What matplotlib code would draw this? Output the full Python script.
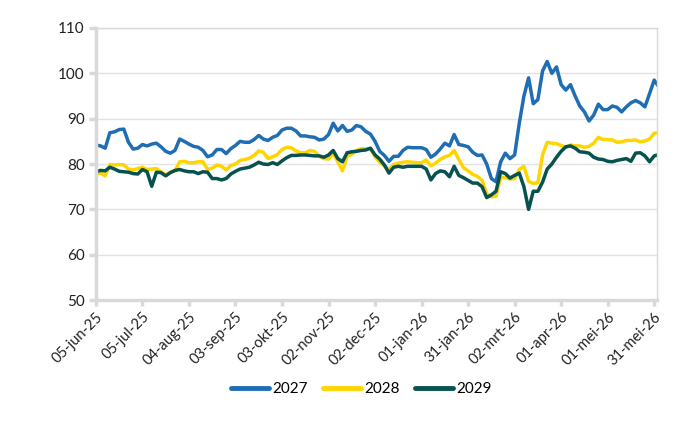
import matplotlib
matplotlib.use("Agg")
import matplotlib.pyplot as plt
import pandas as pd

plt.rcParams['font.family'] = ['Lato', 'DejaVu Sans']

# Data sampled every 3 days from 05-jun-25
start_date = "2025-06-05"
step_days = 3

s2027 = [84.2, 84.0, 83.5, 86.9, 87.1, 87.6, 87.7, 84.8, 83.3, 83.5,
         84.3, 84.0, 84.4, 84.6, 83.8, 82.8, 82.4, 83.0, 85.5, 85.0,
         84.4, 83.9, 83.7, 83.0, 81.6, 82.0, 83.2, 83.2, 82.3, 83.4,
         84.1, 85.0, 84.8, 84.8, 85.4, 86.3, 85.5, 85.2, 85.9, 86.3,
         87.5, 87.9, 87.9, 87.3, 86.2, 86.2, 86.0, 85.9, 85.3, 85.5,
         86.5, 89.0, 87.3, 88.5, 87.2, 87.5, 88.5, 88.2, 87.2, 86.6,
         85.0, 82.8, 81.9, 80.6, 81.7, 81.7, 83.0, 83.7, 83.6, 83.6,
         83.6, 83.2, 81.5, 82.2, 83.3, 84.6, 84.0, 86.5, 84.3, 84.1,
         83.8, 82.6, 81.9, 82.0, 80.0, 76.8, 76.1, 80.5, 82.4, 81.2,
         82.0, 89.0, 95.0, 99.0, 93.3, 94.2, 100.5, 102.6, 100.0, 101.4,
         97.5, 96.3, 97.5, 95.0, 92.8, 91.5, 89.5, 90.8, 93.2, 92.0,
         92.0, 92.8, 92.5, 91.5, 92.6, 93.5, 94.0, 93.5, 92.6, 95.5,
         98.5, 97.0]

s2028 = [77.9, 78.0, 77.4, 79.9, 79.8, 79.9, 79.8, 78.9, 78.7, 79.0,
         79.3, 78.8, 78.9, 79.0, 78.3, 77.6, 78.2, 78.5, 80.5, 80.6,
         80.3, 80.3, 80.5, 80.5, 78.8, 79.1, 79.8, 79.5, 78.7, 79.7,
         80.0, 80.8, 81.0, 81.3, 81.9, 82.9, 82.6, 81.2, 81.6, 82.1,
         83.2, 83.7, 83.6, 82.9, 82.5, 82.5, 83.0, 82.8, 81.7, 81.2,
         81.1, 82.4, 80.5, 78.5, 81.7, 82.2, 83.0, 83.4, 83.3, 83.4,
         81.6, 80.4, 79.6, 78.8, 79.9, 80.2, 80.4, 80.5, 80.4, 80.3,
         80.3, 80.9, 79.6, 80.2, 81.0, 81.6, 81.9, 83.0, 81.0, 79.2,
         78.5, 77.7, 77.3, 76.4, 73.5, 72.8, 72.9, 77.0, 77.0, 76.7,
         76.8, 78.8, 79.5, 76.2, 75.7, 75.9, 82.0, 84.8, 84.6, 84.5,
         84.1, 83.7, 84.2, 84.0, 84.0, 83.7, 83.9, 84.6, 85.9, 85.4,
         85.4, 85.3, 84.8, 84.9, 85.2, 85.2, 85.3, 84.9, 85.1, 85.5,
         86.8, 86.9]

s2029 = [78.3, 78.6, 78.5, 79.3, 78.9, 78.4, 78.3, 78.2, 77.9, 77.8,
         78.8, 78.3, 75.1, 78.2, 78.1, 77.4, 78.1, 78.6, 78.8, 78.5,
         78.3, 78.3, 77.9, 78.3, 78.2, 76.8, 76.8, 76.5, 76.8, 77.8,
         78.4, 78.9, 79.1, 79.3, 79.8, 80.4, 80.0, 79.9, 80.3, 79.9,
         80.7, 81.4, 81.9, 81.9, 82.0, 82.0, 81.9, 81.8, 81.8, 81.5,
         82.0, 83.0, 81.2, 80.5, 82.5, 82.7, 82.8, 83.0, 83.1, 83.5,
         82.0, 81.1, 79.8, 78.0, 79.3, 79.5, 79.3, 79.5, 79.5, 79.5,
         79.5, 78.9, 76.5, 77.9, 78.5, 78.3, 77.2, 79.5, 77.5, 77.0,
         76.4, 75.8, 75.8, 75.0, 72.6, 73.2, 74.0, 78.3, 77.9, 76.9,
         77.5, 78.0, 75.0, 70.0, 74.0, 74.0, 76.0, 78.9, 80.0, 81.5,
         82.8, 83.8, 84.0, 83.5, 82.7, 82.6, 82.4, 81.5, 81.1, 81.0,
         80.6, 80.5, 80.8, 81.0, 81.2, 80.6, 82.4, 82.5, 81.8, 80.5,
         81.8, 82.1]

series_names = ["2027", "2028", "2029"]
colors = ["#1f6db3", "#ffd500", "#07524f"]

tick_dates = ["2025-06-05", "2025-07-05", "2025-08-04", "2025-09-03", "2025-10-03",
              "2025-11-02", "2025-12-02", "2026-01-01", "2026-01-31", "2026-03-02",
              "2026-04-01", "2026-05-01", "2026-05-31"]
tick_labels = ["05-jun-25", "05-jul-25", "04-aug-25", "03-sep-25", "03-okt-25",
               "02-nov-25", "02-dec-25", "01-jan-26", "31-jan-26", "02-mrt-26",
               "01-apr-26", "01-mei-26", "31-mei-26"]
y_ticks = [50, 60, 70, 80, 90, 100, 110]

dates = pd.date_range(start_date, periods=len(s2027), freq=f"{step_days}D")

fig = plt.figure(figsize=(7, 4.3), dpi=100)
ax = fig.add_axes([0.137, 0.302, 0.802, 0.633])

for vals, name, c in zip([s2027, s2028, s2029], series_names, colors):
    ax.plot(dates, vals, color=c, lw=2.5, label=name, solid_joinstyle='round')

ax.set_ylim(50, 110)
ax.set_yticks(y_ticks)
ax.set_xlim(pd.Timestamp(start_date), pd.Timestamp("2026-06-02"))
ax.set_xticks(pd.to_datetime(tick_dates))
ax.set_xticklabels(tick_labels, rotation=45, ha='right', rotation_mode='anchor')

ax.grid(axis='y', color='#e3e3e3', lw=1)
ax.set_axisbelow(True)
for side in ['top', 'right']:
    ax.spines[side].set_color('#d9d9d9')
    ax.spines[side].set_linewidth(1)
for side in ['left', 'bottom']:
    ax.spines[side].set_color('#d9d9d9')
    ax.spines[side].set_linewidth(2.5)

ax.tick_params(axis='y', length=5, width=2.5, color='#d9d9d9', labelsize=11,
               labelcolor='#222222', pad=3)
ax.tick_params(axis='x', length=4, width=2.5, color='#d9d9d9', labelsize=10.5,
               labelcolor='#222222', pad=3)

leg = fig.legend(loc='center', bbox_to_anchor=(0.516, 0.095), ncol=3, frameon=False,
                 fontsize=11, handlelength=2.5, handletextpad=0.2, columnspacing=1.0)
for h in leg.get_lines():
    h.set_linewidth(3.5)
    h.set_solid_capstyle('round')

fig.savefig("out.png", dpi=100)
